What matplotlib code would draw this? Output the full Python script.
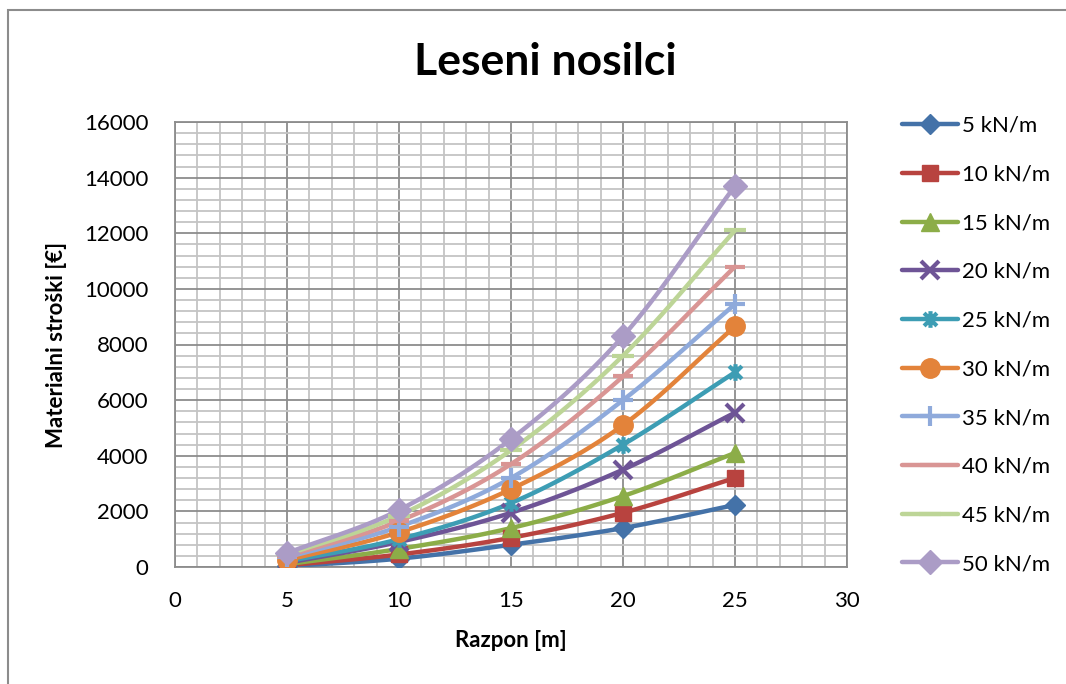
import numpy as np
import matplotlib
matplotlib.use('Agg')
from matplotlib import pyplot as plt
from matplotlib.path import Path
from matplotlib.patches import Rectangle

plt.rcParams['font.family'] = ['Lato', 'DejaVu Sans']

razpon = [5, 10, 15, 20, 25]
labels = ['5 kN/m', '10 kN/m', '15 kN/m', '20 kN/m', '25 kN/m',
          '30 kN/m', '35 kN/m', '40 kN/m', '45 kN/m', '50 kN/m']
q5 = [30, 300, 800, 1400, 2230]
q10 = [60, 450, 1050, 1950, 3200]
q15 = [100, 650, 1400, 2550, 4100]
q20 = [150, 900, 1950, 3500, 5550]
q25 = [200, 1000, 2300, 4400, 7000]
q30 = [250, 1250, 2800, 5100, 8650]
q35 = [350, 1450, 3200, 6000, 9450]
q40 = [400, 1650, 3700, 6850, 10800]
q45 = [450, 1850, 4200, 7600, 12100]
q50 = [500, 2050, 4600, 8300, 13700]
series = [q5, q10, q15, q20, q25, q30, q35, q40, q45, q50]

colors = ['#4472A8', '#B8433F', '#8CAD48', '#6E5496', '#3D9DB4',
          '#E3833A', '#8FAADB', '#D99594', '#BDD597', '#AB9CC6']

# asterisk marker like excel (x with vertical bar)
star = Path([(-1, -1), (1, 1), (-1, 1), (1, -1), (0, -1.3), (0, 1.3)],
            [Path.MOVETO, Path.LINETO, Path.MOVETO, Path.LINETO, Path.MOVETO, Path.LINETO])
markers = ['D', 's', '^', 'x', star, 'o', '+', '_', '_', 'D']
msizes = [10, 11, 13, 13, 12, 14, 15, 14, 16, 12]


def smooth(x, y, n=30):
	# catmull-rom style curve, like excel smoothed line
	x = np.asarray(x, float)
	y = np.asarray(y, float)
	px = np.concatenate([[2*x[0]-x[1]], x, [2*x[-1]-x[-2]]])
	py = np.concatenate([[2*y[0]-y[1]], y, [2*y[-1]-y[-2]]])
	t = np.linspace(0, 1, n)
	xs, ys = [], []
	for i in range(1, len(px)-2):
		for P, out in ((px, xs), (py, ys)):
			p0, p1, p2, p3 = P[i-1], P[i], P[i+1], P[i+2]
			c1 = p1 + (p2 - p0)/6
			c2 = p2 - (p3 - p1)/6
			out.extend((1-t)**3*p1 + 3*(1-t)**2*t*c1 + 3*(1-t)*t**2*c2 + t**3*p2)
	return np.array(xs), np.array(ys)


fig = plt.figure(figsize=(10.66, 6.84), dpi=100)
ax = fig.add_axes([175/1066, 1-567/684, 672/1066, 445/684])

for vals, lab, c, m, ms in zip(series, labels, colors, markers, msizes):
	sx, sy = smooth(razpon, vals)
	ax.plot(sx, sy, color=c, lw=3.2, solid_capstyle='round', zorder=3)
	mew = 3 if m in ('_', '+', 'x') or m is star else 1
	ax.plot(razpon, vals, ls='none', marker=m, ms=ms, color=c, mec=c, mew=mew, zorder=4)
	ax.plot([], [], color=c, lw=3.2, solid_capstyle='round', marker=m, ms=ms, mec=c, mew=mew, label=lab)

ax.set_xlim(0, 30)
ax.set_ylim(0, 16000)
ax.set_xticks(range(0, 31, 5))
ax.set_yticks(range(0, 16001, 2000))
ax.set_xticks(range(0, 31, 1), minor=True)
ax.set_yticks(range(0, 16001, 400), minor=True)
ax.grid(which='minor', color='#C4C4C4', lw=1.3, zorder=0)
ax.grid(which='major', color='#8C8C8C', lw=1.3, zorder=1)
ax.set_axisbelow(True)
ax.tick_params(which='both', length=0, labelsize=16)
ax.tick_params(axis='y', pad=19)
ax.tick_params(axis='x', pad=17)
for s in ax.spines.values():
	s.set_color('#8C8C8C')
	s.set_linewidth(1.3)

ax.set_xlabel('Razpon [m]', fontsize=16, fontweight='bold', labelpad=14)
ax.set_ylabel('Materialni stroški [€]', fontsize=16, fontweight='bold', labelpad=12)
fig.text(545/1066, 1-62/684, 'Leseni nosilci', fontsize=32, fontweight='bold',
	ha='center', va='center')

ax.legend(loc='upper left', bbox_to_anchor=(902/1066, 1-116/684), bbox_transform=fig.transFigure,
	frameon=False, fontsize=16, handlelength=2.5, handletextpad=0.2,
	labelspacing=1.29, borderpad=0, borderaxespad=0)

fig.patches.append(Rectangle((8/1066, -0.1), 1.1, 1.1 - 10/684 + 0.0, transform=fig.transFigure,
	fill=False, edgecolor='#8C8C8C', lw=1.5))

fig.savefig('out.png', dpi=100)
